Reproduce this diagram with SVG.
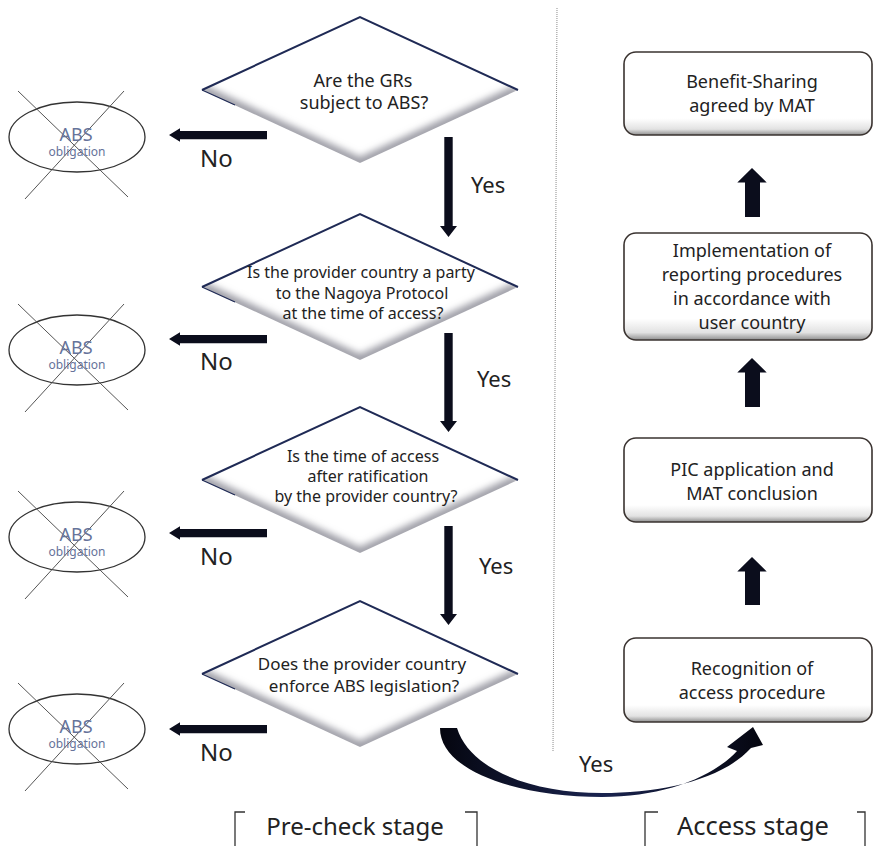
<svg xmlns="http://www.w3.org/2000/svg" width="873" height="846" viewBox="0 0 873 846">
<style>
  .t { font-family: "Noto Sans", "Open Sans", sans-serif; fill: #222; text-anchor: middle; }
  .d18 { font-size: 18px; }
  .d17 { font-size: 17px; }
  .d16 { font-size: 16px; }
  .bx { font-size: 18px; }
  .lbl { font-family: "Noto Sans", "Open Sans", sans-serif; font-size: 22px; fill: #222; }
  .no { font-size: 24px; }
  .stage { font-family: "Noto Sans", "Open Sans", sans-serif; fill: #222; text-anchor: middle; }
  .abs { font-family: "Noto Sans", "Open Sans", sans-serif; fill: #66739a; text-anchor: middle; }
  .ell { fill: none; stroke: #333; stroke-width: 1.3; }
  .cross { stroke: #555; stroke-width: 1; }
  .arr { fill: #0b0d1c; }
  .box { fill: url(#bgrad); stroke: #3a3330; stroke-width: 1.6; }
  .brk { fill: none; stroke: #333; stroke-width: 1.3; }
</style>
<defs>
  <filter id="blur" x="-20%" y="-20%" width="140%" height="140%">
    <feGaussianBlur stdDeviation="3.5"/>
  </filter>
  <clipPath id="dclip"><polygon points="0,-73 158,0 0,73 -158,0"/></clipPath>
  <linearGradient id="bgrad" x1="0" y1="0" x2="0" y2="1">
    <stop offset="0" stop-color="#ffffff"/>
    <stop offset="0.8" stop-color="#ffffff"/>
    <stop offset="0.93" stop-color="#e2e2e2"/>
    <stop offset="1" stop-color="#8f8f8f"/>
  </linearGradient>
  <linearGradient id="cgrad" x1="0" y1="0" x2="1" y2="0">
    <stop offset="0" stop-color="#05060f"/>
    <stop offset="0.5" stop-color="#1a2450"/>
    <stop offset="1" stop-color="#05060f"/>
  </linearGradient>
  <g id="dia">
    <polygon points="0,-73 158,0 0,73 -158,0" fill="#ffffff"/>
    <g clip-path="url(#dclip)">
      <polyline points="-158,0 0,73 158,0" fill="none" stroke="#9d9da6" stroke-width="11" filter="url(#blur)"/>
    </g>
    <polyline points="-158,0 0,-73 158,0" fill="none" stroke="#1f2a55" stroke-width="2"/>
    <polyline points="-158,0 -125,15" fill="none" stroke="#1f2a55" stroke-width="1.3"/>
  </g>
  <g id="noobl">
    <ellipse class="ell" cx="0" cy="0" rx="68" ry="35"/>
    <line class="cross" x1="-59" y1="-46" x2="51" y2="60"/>
    <line class="cross" x1="47" y1="-46" x2="-52" y2="62"/>
    <text class="abs" x="-1" y="4" font-size="18">ABS</text>
    <text class="abs" x="0" y="19" font-size="12">obligation</text>
  </g>
</defs>

<!-- stage divider -->
<line x1="557" y1="8" x2="553" y2="752" stroke="#8a8a8a" stroke-width="1" stroke-dasharray="1 1"/>

<!-- decision nodes -->
<g id="q1">
  <use href="#dia" transform="translate(360,90)"/>
  <text class="t d18" x="363" y="87">Are the GRs</text>
  <text class="t d18" x="364" y="109">subject to ABS?</text>
</g>
<g id="q2">
  <use href="#dia" transform="translate(360,287)"/>
  <text class="t d16" x="361" y="278">Is the provider country a party</text>
  <text class="t d16" x="362" y="299">to the Nagoya Protocol</text>
  <text class="t d16" x="363" y="319">at the time of access?</text>
</g>
<g id="q3">
  <use href="#dia" transform="translate(360,480)"/>
  <text class="t d16" x="363" y="462">Is the time of access</text>
  <text class="t d16" x="368" y="482">after ratification</text>
  <text class="t d16" x="366" y="502">by the provider country?</text>
</g>
<g id="q4">
  <use href="#dia" transform="translate(360,674)"/>
  <text class="t d17" x="362" y="670">Does the provider  country</text>
  <text class="t d17" x="364" y="692">enforce  ABS legislation?</text>
</g>

<!-- no-obligation nodes -->
<g id="n1"><use href="#noobl" transform="translate(77,137)"/></g>
<g id="n2"><use href="#noobl" transform="translate(77,350)"/></g>
<g id="n3"><use href="#noobl" transform="translate(77,537)"/></g>
<g id="n4"><use href="#noobl" transform="translate(77,729)"/></g>

<!-- access stage boxes -->
<g id="b1">
  <rect class="box" x="624" y="52" width="248" height="83" rx="12"/>
  <text class="t bx" x="752" y="88">Benefit-Sharing</text>
  <text class="t bx" x="752" y="112">agreed by MAT</text>
</g>
<g id="b2">
  <rect class="box" x="624" y="233" width="248" height="107" rx="12"/>
  <text class="t bx" x="752" y="257">Implementation of</text>
  <text class="t bx" x="752" y="281">reporting procedures</text>
  <text class="t bx" x="752" y="305">in accordance with</text>
  <text class="t bx" x="752" y="329">user country</text>
</g>
<g id="b3">
  <rect class="box" x="624" y="438" width="248" height="84" rx="12"/>
  <text class="t bx" x="752" y="476">PIC application and</text>
  <text class="t bx" x="752" y="500">MAT conclusion</text>
</g>
<g id="b4">
  <rect class="box" x="624" y="638" width="248" height="84" rx="12"/>
  <text class="t bx" x="752" y="675">Recognition of</text>
  <text class="t bx" x="752" y="699">access procedure</text>
</g>

<!-- connectors -->
<g id="connectors">
  <!-- No arrows (left) -->
  <polygon class="arr" points="169,135 180,128.3 180,131 267,131 267,139.3 180,139.3 180,141.7"/>
  <polygon class="arr" points="169,339 180,332.3 180,335 267,335 267,343.3 180,343.3 180,345.7"/>
  <polygon class="arr" points="169,533 180,526.3 180,529 267,529 267,537.3 180,537.3 180,539.7"/>
  <polygon class="arr" points="169,729 180,722.3 180,725 267,725 267,733.3 180,733.3 180,735.7"/>
  <!-- Yes arrows (down) -->
  <polygon class="arr" points="444.3,137 452.7,137 452.7,226 457,226 448.5,237 440,226 444.3,226"/>
  <polygon class="arr" points="444.3,333 452.7,333 452.7,421 457,421 448.5,432 440,421 444.3,421"/>
  <polygon class="arr" points="444.3,526 452.7,526 452.7,614 457,614 448.5,625 440,614 444.3,614"/>
  <!-- Up arrows (access stage) -->
  <polygon class="arr" points="752,168 766.7,182.5 760,182.5 760,217 745,217 745,182.5 737.3,182.5"/>
  <polygon class="arr" points="752,358 766.7,372.5 760,372.5 760,407 745,407 745,372.5 737.3,372.5"/>
  <polygon class="arr" points="752,557 766.7,571.5 760,571.5 760,605 745,605 745,571.5 737.3,571.5"/>
  <!-- curved Yes arrow -->
  <path fill="url(#cgrad)" d="M440,728 C440,772 520,797 602,797 C662,797 712,778 737,751 L727,747 L753,727 L763,745 L751,748 C722,780 662,793 602,793 C532,793 470,770 457,728 Z"/>
</g>

<!-- labels -->
<text class="lbl no" x="200" y="167">No</text>
<text class="lbl no" x="200" y="370">No</text>
<text class="lbl no" x="200" y="565">No</text>
<text class="lbl no" x="200" y="761">No</text>
<text class="lbl" x="471" y="193">Yes</text>
<text class="lbl" x="477" y="387">Yes</text>
<text class="lbl" x="479" y="574">Yes</text>
<text class="lbl" x="579" y="772">Yes</text>

<!-- stage captions -->
<path class="brk" d="M245,812 H235 V846"/>
<path class="brk" d="M465,812 H477 V846"/>
<text class="stage" x="355" y="835" font-size="24">Pre-check stage</text>
<path class="brk" d="M658,812 H645 V846"/>
<path class="brk" d="M857,812 H865 V846"/>
<text class="stage" x="753" y="835" font-size="25.5">Access stage</text>
</svg>
